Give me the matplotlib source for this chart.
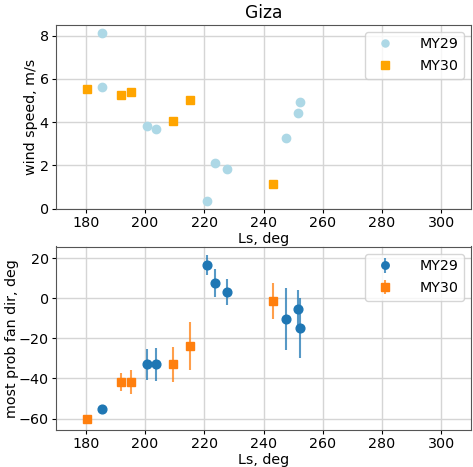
import matplotlib
matplotlib.use("Agg")
import matplotlib.pyplot as plt

# Top panel: wind speed
ls29 = [185.5, 185.5, 200.6, 203.6, 221.1, 223.6, 227.6, 247.7, 251.7, 252.2]
ws29 = [8.13, 5.63, 3.83, 3.69, 0.37, 2.09, 1.85, 3.27, 4.42, 4.93]
ls30 = [180.6, 191.8, 195.3, 209.4, 215.2, 243.3]
ws30 = [5.55, 5.27, 5.38, 4.06, 5.01, 1.13]

# Bottom panel: most probable fan direction
ls29_fd = [185.5, 200.6, 203.6, 221.1, 223.6, 227.6, 247.7, 251.7, 252.2]
fd29 = [-55.2, -33.0, -33.0, 16.6, 7.7, 3.2, -10.2, -5.5, -15.0]
fe29 = [2.0, 7.5, 8.0, 5.0, 7.0, 6.5, 15.5, 9.5, 15.0]
fd30 = [-60.0, -41.8, -41.8, -33.0, -24.0, -1.3]
fe30 = [1.5, 4.5, 6.0, 8.5, 12.0, 9.0]

W, H = 473, 467
plt.rcParams['font.size'] = 10.3
plt.rcParams['xtick.major.pad'] = 2.2
plt.rcParams['ytick.major.pad'] = 2.2
plt.rcParams['xtick.major.size'] = 3
plt.rcParams['ytick.major.size'] = 3
fig = plt.figure(figsize=(W / 100, H / 100), dpi=100)

def box(l, t, r, b):
    return [l / W, 1 - b / H, (r - l) / W, (b - t) / H]

ax1 = fig.add_axes(box(56, 24.5, 471, 209))
ax2 = fig.add_axes(box(56, 246.5, 471, 430))

ax1.plot(ls29, ws29, 'o', color='lightblue', markersize=6, label='MY29')
ax1.plot(ls30, ws30, 's', color='orange', markersize=6, label='MY30')
ax1.set_title('Giza', fontsize=12.3, pad=5)
ax1.set_xlabel('Ls, deg', labelpad=1.5)
ax1.set_ylabel('wind speed, m/s', labelpad=1)
ax1.set_xlim(170, 310)
ax1.grid(True, color='#d5d5d5', linewidth=1)
ax1.set_axisbelow(True)
ax1.legend(loc='upper right', markerscale=0.85, handletextpad=1.4,
           labelspacing=0.55)

c1, c2 = '#1f77b4', '#ff7f0e'
ax2.errorbar(ls29_fd, fd29, yerr=fe29, fmt='o', color=c1, ecolor=c1,
             markersize=6.3, elinewidth=1.5, label='MY29')
ax2.errorbar(ls30, fd30, yerr=fe30, fmt='s', color=c2, ecolor=c2,
             markersize=6, elinewidth=1.5, label='MY30')
for coll in ax2.collections:
    coll.set_alpha(0.75)
ax2.set_xlabel('Ls, deg', labelpad=1.5)
ax2.set_ylabel('most prob fan dir, deg', labelpad=0)
ax2.set_xlim(170, 310)
ax2.grid(True, color='#d5d5d5', linewidth=1)
ax2.set_axisbelow(True)
ax2.legend(loc='upper right', markerscale=0.85, handletextpad=1.4,
           labelspacing=0.55)

for ax in (ax1, ax2):
    for s in ax.spines.values():
        s.set_color('#555555')

fig.savefig('out.png', dpi=100)
